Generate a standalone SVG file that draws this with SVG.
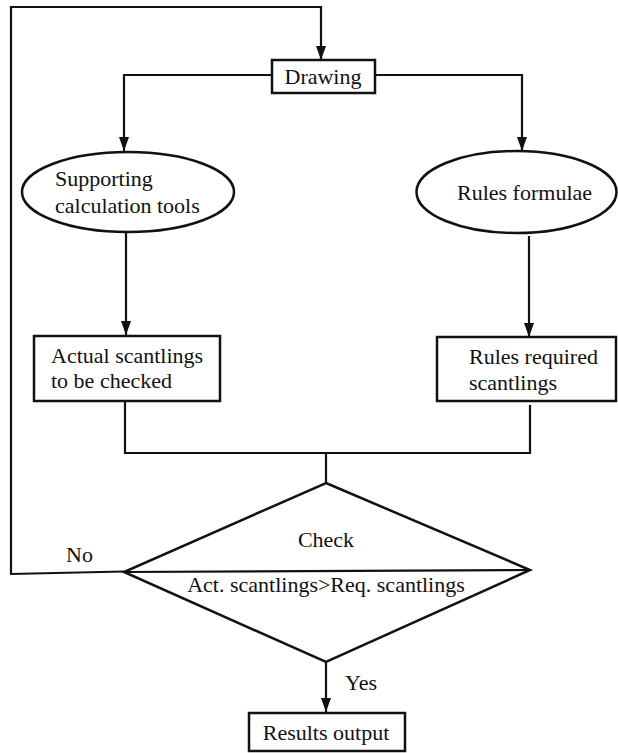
<svg xmlns="http://www.w3.org/2000/svg" width="618" height="753" viewBox="0 0 618 753">
  <defs>
    <marker id="arrow" viewBox="0 0 14 10" refX="14" refY="5" markerWidth="14" markerHeight="10" markerUnits="userSpaceOnUse" orient="auto">
      <path d="M0,0 L14,5 L0,10 Z" fill="#111"/>
    </marker>
  </defs>
  <style>
    .shape { fill: #fff; stroke: #111; stroke-width: 2.5; }
    .line { fill: none; stroke: #111; stroke-width: 2.2; }
    .arrowed { marker-end: url(#arrow); }
    text { font-family: "Liberation Serif", "Times New Roman", serif; font-size: 22px; fill: #111; }
    .mid { text-anchor: middle; }
  </style>
  <rect width="618" height="753" fill="#fff"/>

  <g id="connectors">
    <!-- feedback loop "No" back to Drawing -->
    <polyline class="line arrowed" points="124,571.5 11,574 11,7 321,7 321,60"/>
    <!-- Drawing to the two ellipses -->
    <polyline class="line arrowed" points="272,75 124,75 124,151"/>
    <polyline class="line arrowed" points="375,75 522,75 522,151"/>
    <!-- ellipses to boxes -->
    <line class="line arrowed" x1="126" y1="232" x2="126" y2="335"/>
    <line class="line arrowed" x1="529" y1="236" x2="529" y2="337"/>
    <!-- boxes join into the check -->
    <polyline class="line" points="125,401 125,453 530,453 530,405"/>
    <line class="line" x1="326" y1="453" x2="326" y2="483"/>
    <!-- Yes to output -->
    <line class="line arrowed" x1="326" y1="662" x2="326" y2="712"/>
  </g>

  <g id="drawing">
    <rect class="shape" x="272" y="60" width="103" height="33" stroke-width="3"/>
    <text class="mid" x="323" y="84">Drawing</text>
  </g>

  <g id="supporting-tools">
    <ellipse class="shape" cx="128" cy="192" rx="106" ry="40"/>
    <text x="55" y="186">Supporting</text>
    <text x="55" y="213">calculation tools</text>
  </g>

  <g id="rules-formulae">
    <ellipse class="shape" cx="516.5" cy="192" rx="100" ry="41"/>
    <text x="457" y="200">Rules formulae</text>
  </g>

  <g id="actual-scantlings">
    <rect class="shape" x="34" y="336" width="186" height="65"/>
    <text x="51" y="363">Actual scantlings</text>
    <text x="51" y="388">to be checked</text>
  </g>

  <g id="required-scantlings">
    <rect class="shape" x="437" y="337" width="179" height="64"/>
    <text x="469" y="364">Rules required</text>
    <text x="469" y="390">scantlings</text>
  </g>

  <g id="check">
    <polygon class="shape" points="326,483 530,570 326,662 124,572"/>
    <line class="line" x1="124" y1="572" x2="530" y2="570"/>
    <text class="mid" x="326" y="547">Check</text>
    <text class="mid" x="326" y="592">Act. scantlings&gt;Req. scantlings</text>
  </g>

  <g id="labels">
    <text x="66" y="562">No</text>
    <text x="345" y="690">Yes</text>
  </g>

  <g id="results-output">
    <rect class="shape" x="249" y="713" width="156" height="38"/>
    <text class="mid" x="326" y="740">Results output</text>
  </g>
</svg>
